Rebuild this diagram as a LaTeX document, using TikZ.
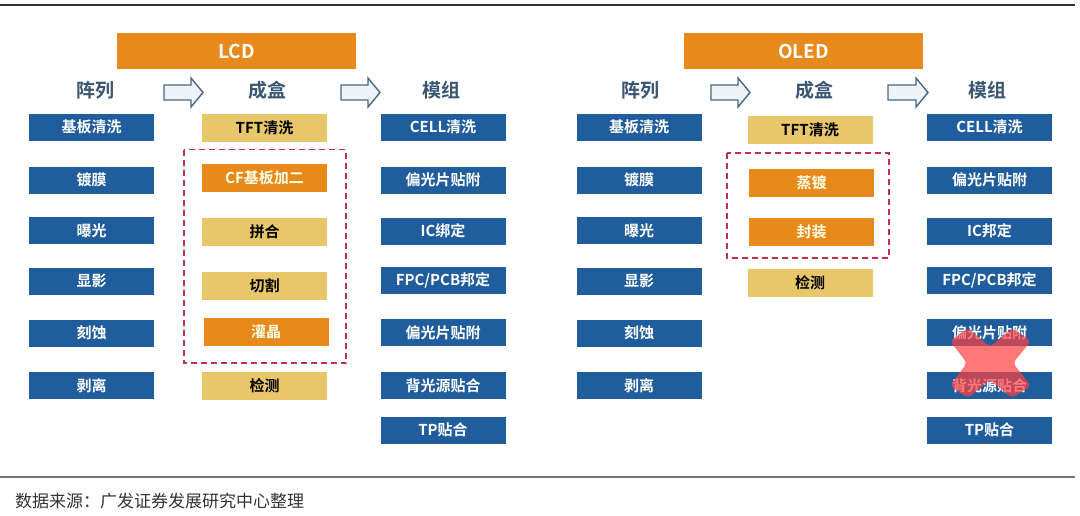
\documentclass[tikz,border=0pt]{standalone}
\usepackage{fontspec}
\setmainfont{Noto Sans CJK SC}
\newfontfamily\cjkb{Noto Sans CJK SC Bold}
\newfontfamily\cjkr{Noto Sans CJK SC}
\definecolor{bblue}{HTML}{1F5D9C}
\definecolor{borange}{HTML}{E8891B}
\definecolor{btan}{HTML}{E8C76A}
\definecolor{dred}{HTML}{C0304A}
\definecolor{hdtext}{HTML}{3A5672}
\definecolor{arrline}{HTML}{4A6785}
\definecolor{arrfill}{HTML}{EEF3F8}
\definecolor{xred}{HTML}{FF4040}
\tikzset{
  x=1pt, y=-1pt,
  box/.style={minimum width=125pt, minimum height=27pt, inner sep=0pt, font=\cjkb\fontsize{15}{15}\selectfont},
  bluebox/.style={box, fill=bblue, text=white},
  tanbox/.style={box, fill=btan, text=black, minimum height=28pt},
  orbox/.style={box, fill=borange, text=white!90!yellow, minimum height=28pt},
  header/.style={fill=borange, minimum width=239pt, minimum height=36pt, inner sep=0pt, text=white, font=\cjkb\fontsize{19}{19}\selectfont},
  colhead/.style={text=hdtext, inner sep=0pt, font=\cjkb\fontsize{19}{19}\selectfont},
  dbox/.style={draw=dred, dashed, dash pattern=on 6pt off 4pt, line width=1.5pt},
  blockarrow/.style={draw=arrline, line width=1.4pt, fill=arrfill, line join=miter}
}
\begin{document}
\begin{tikzpicture}
\useasboundingbox (0,0) rectangle (1080,515);
\fill[white] (0,0) rectangle (1080,515);
% rules
\draw[line width=1.3pt, black!80] (0,5) -- (1075,5);
\draw[line width=1.3pt, black!55] (0,477) -- (1075,477);
\node[anchor=west, inner sep=0pt, text=black!80, font=\cjkr\fontsize{17}{17}\selectfont] (src) at (15,501) {数据来源：广发证券发展研究中心整理};

% ===== LCD =====
\node[header] (lcd) at (236.5,51) {LCD};
\node[colhead] (la) at (95,90) {阵列};
\node[colhead] (lb) at (267,90) {成盒};
\node[colhead] (lc) at (441,90) {模组};
\draw[blockarrow] (164,85) -- (191,85) -- (191,78) -- (203,92.5) -- (191,107) -- (191,100) -- (164,100) -- cycle;
\draw[blockarrow] (341,85) -- (368,85) -- (368,78) -- (380,92.5) -- (368,107) -- (368,100) -- (341,100) -- cycle;

\node[bluebox] (la1) at (91.5,127) {基板清洗};
\node[bluebox] (la2) at (91.5,180) {镀膜};
\node[bluebox] (la3) at (91.5,230.5) {曝光};
\node[bluebox] (la4) at (91.5,281) {显影};
\node[bluebox] (la5) at (91.5,333) {刻蚀};
\node[bluebox] (la6) at (91.5,385.5) {剥离};

\draw[dbox] (184,149.5) rectangle (346,363);
\node[tanbox] (lb1) at (264.5,127.5) {TFT清洗};
\node[orbox] (lb2) at (264.5,177.5) {CF基板加二};
\node[tanbox] (lb3) at (264.5,231.5) {拼合};
\node[tanbox] (lb4) at (264.5,286) {切割};
\node[orbox] (lb5) at (266,332) {灌晶};
\node[tanbox] (lb6) at (264.5,386) {检测};

\node[bluebox] (lc1) at (443,127) {CELL清洗};
\node[bluebox] (lc2) at (443,180) {偏光片贴附};
\node[bluebox] (lc3) at (443,231) {IC绑定};
\node[bluebox] (lc4) at (443,280.5) {FPC/PCB邦定};
\node[bluebox] (lc5) at (443,332.5) {偏光片贴附};
\node[bluebox] (lc6) at (443,385.5) {背光源贴合};
\node[bluebox] (lc7) at (443,430) {TP贴合};

% ===== OLED =====
\node[header] (oled) at (803.5,51) {OLED};
\node[colhead] (oa) at (640,90) {阵列};
\node[colhead] (ob) at (814,90) {成盒};
\node[colhead] (oc) at (987,90) {模组};
\draw[blockarrow] (711,85) -- (738,85) -- (738,78) -- (750,92.5) -- (738,107) -- (738,100) -- (711,100) -- cycle;
\draw[blockarrow] (888,85) -- (916,85) -- (916,78) -- (928,92.5) -- (916,107) -- (916,100) -- (888,100) -- cycle;

\node[bluebox] (oa1) at (639,127) {基板清洗};
\node[bluebox] (oa2) at (639,180) {镀膜};
\node[bluebox] (oa3) at (639,230.5) {曝光};
\node[bluebox] (oa4) at (639,281) {显影};
\node[bluebox] (oa5) at (639,333) {刻蚀};
\node[bluebox] (oa6) at (639,385.5) {剥离};

\draw[dbox] (727,153) rectangle (889,258);
\node[tanbox] (ob1) at (810,129.5) {TFT清洗};
\node[orbox] (ob2) at (811.5,183) {蒸镀};
\node[orbox] (ob3) at (811.5,231.5) {封装};
\node[tanbox] (ob4) at (810,282.5) {检测};

\node[bluebox] (oc1) at (989.5,127) {CELL清洗};
\node[bluebox] (oc2) at (989.5,180) {偏光片贴附};
\node[bluebox] (oc3) at (989.5,231) {IC邦定};
\node[bluebox] (oc4) at (989.5,280.5) {FPC/PCB邦定};
\node[bluebox] (oc5) at (989.5,332.5) {偏光片贴附};
\node[bluebox] (oc6) at (989.5,385.5) {背光源贴合};
\node[bluebox] (oc7) at (989.5,430) {TP贴合};

% red cross
\fill[xred, opacity=0.7, rounded corners=4pt]
  (950,341) -- (968,328) -- (990,347) -- (1012,328) -- (1031,341) -- (1013,363)
  -- (1031,386) -- (1012,398) -- (990,380) -- (968,398) -- (950,386) -- (967,363) -- cycle;
\end{tikzpicture}
\end{document}
